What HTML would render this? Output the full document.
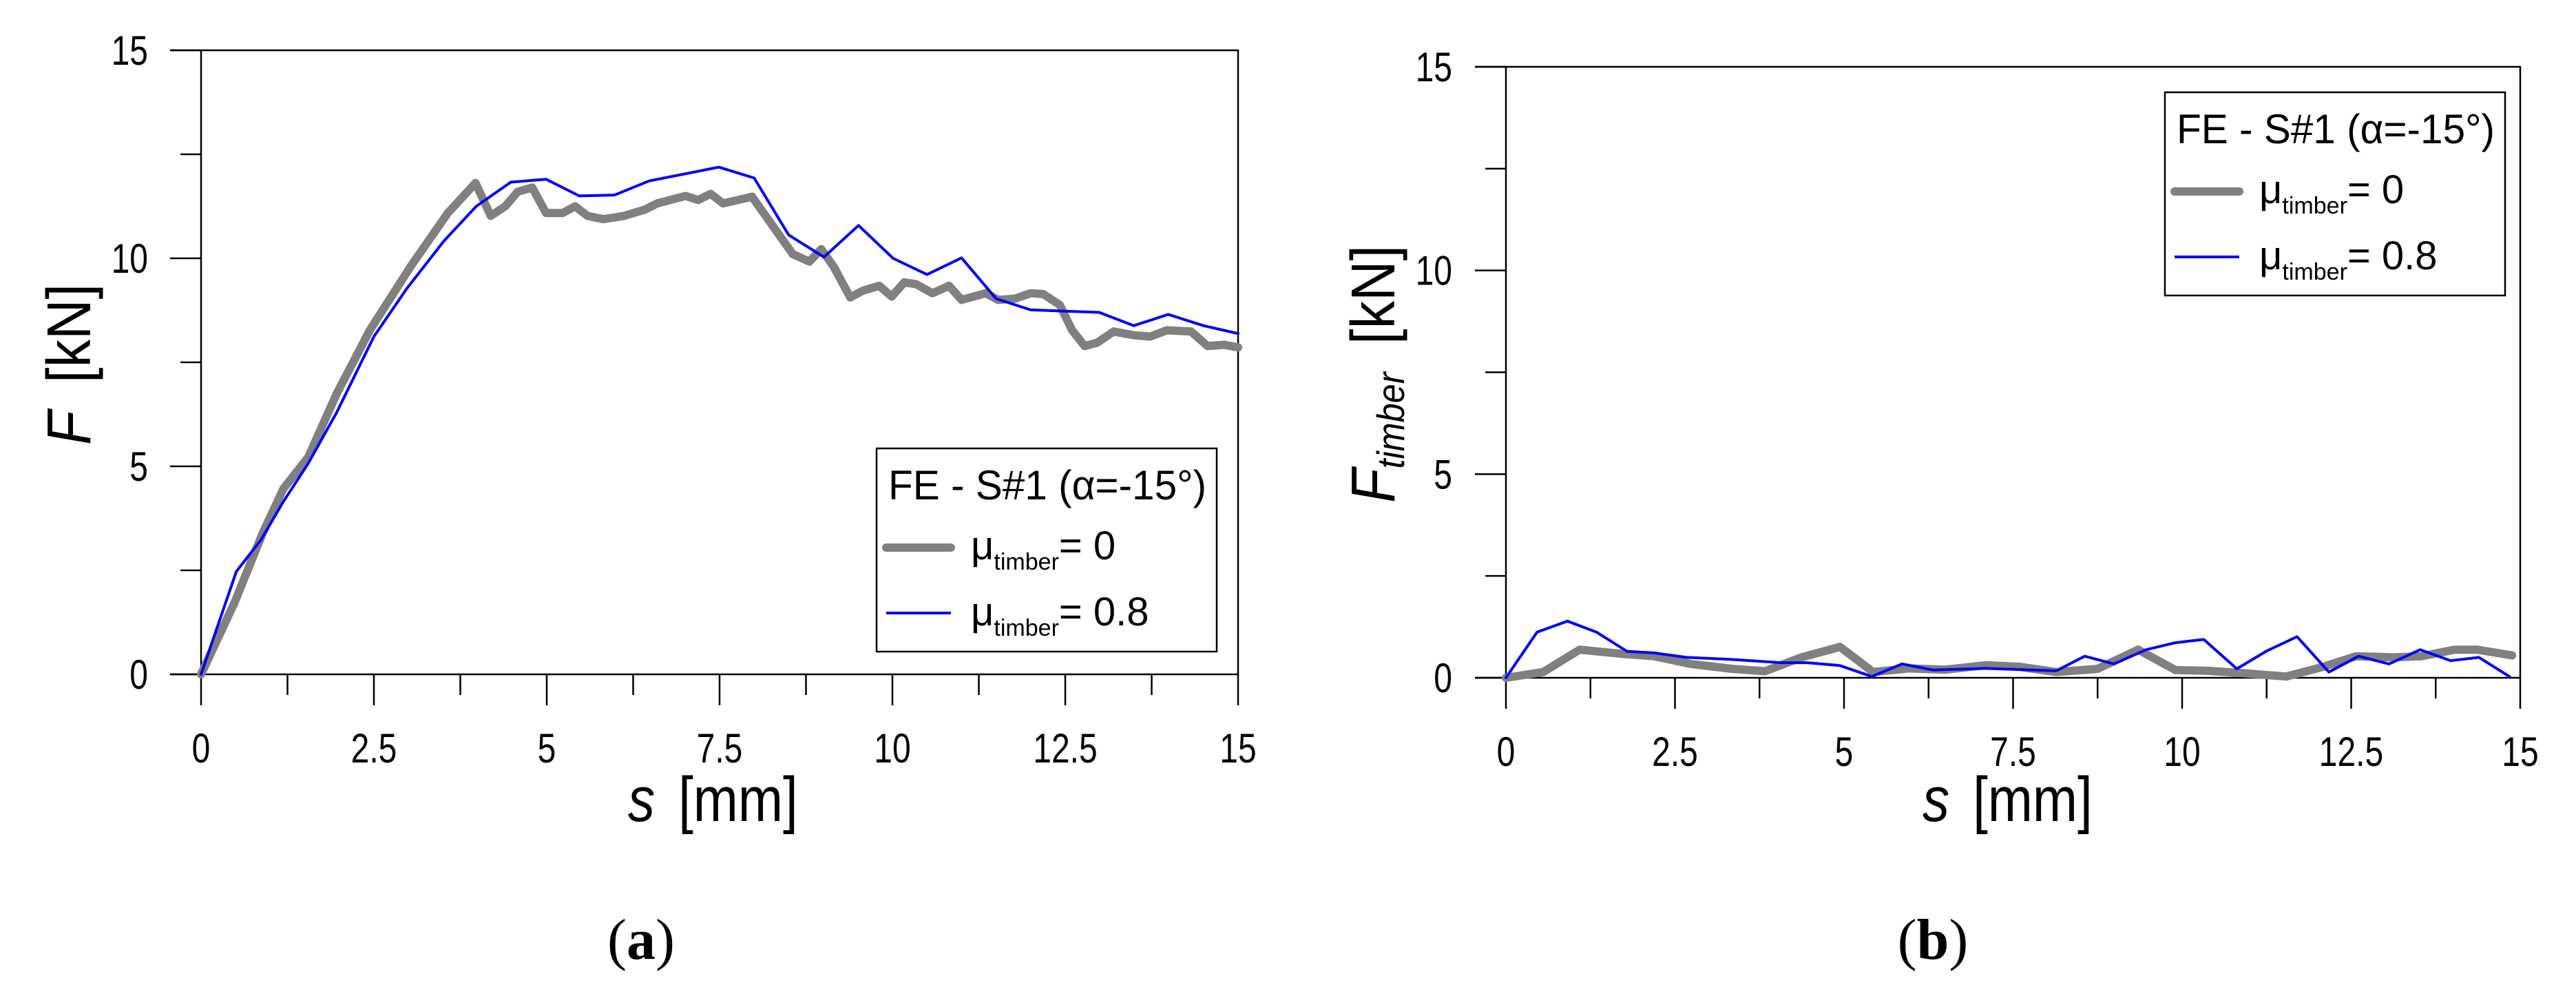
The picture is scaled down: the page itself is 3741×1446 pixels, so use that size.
<!DOCTYPE html>
<html><head><meta charset="utf-8"><style>
html,body{margin:0;padding:0;background:#fff;}
svg{display:block;font-family:"Liberation Sans",sans-serif;}
</style></head><body>
<svg id="fig" width="3741" height="1446" viewBox="0 0 3741 1446" xmlns="http://www.w3.org/2000/svg">
<g id="pa"></g>
<g id="pb"></g>
</svg>
<script>
const xTicks=[0,2.5,5,7.5,10,12.5,15];
const xTickLabels=["0","2.5","5","7.5","10","12.5","15"];
const yTicks=[0,5,10,15];
const yTickLabels=["0","5","10","15"];
const aGrayX=[0,0.48,0.89,1.19,1.55,1.96,2.44,3.03,3.57,3.97,4.19,4.4,4.58,4.79,4.99,5.23,5.41,5.59,5.82,6.12,6.42,6.6,6.78,7.01,7.19,7.37,7.55,7.97,8.2,8.56,8.8,8.97,9.15,9.39,9.57,9.81,9.99,10.17,10.34,10.58,10.82,11.0,11.35,11.53,11.77,12.0,12.18,12.42,12.6,12.78,12.96,13.2,13.49,13.73,13.97,14.32,14.56,14.8,15];
const aGrayY=[0,1.71,3.39,4.46,5.22,6.74,8.27,9.8,11.09,11.81,11.02,11.25,11.6,11.7,11.09,11.09,11.25,11.02,10.94,11.02,11.17,11.32,11.4,11.5,11.4,11.55,11.32,11.48,10.94,10.1,9.92,10.22,9.8,9.06,9.22,9.34,9.08,9.42,9.38,9.16,9.34,9.0,9.16,9.0,9.03,9.16,9.14,8.88,8.27,7.89,7.97,8.24,8.15,8.12,8.27,8.24,7.89,7.92,7.86];
const aBlueX=[0,0.51,0.87,1.19,1.55,1.96,2.5,2.97,3.51,3.98,4.48,4.99,5.47,5.98,6.48,7.49,8.0,8.5,9.01,9.51,10.01,10.5,11.0,11.5,12.0,12.5,12.99,13.49,13.99,14.5,15];
const aBlueY=[0,2.47,3.24,4.15,5.07,6.29,8.12,9.26,10.41,11.25,11.83,11.9,11.5,11.52,11.86,12.19,11.93,10.56,10.03,10.79,10.0,9.61,10.01,9.03,8.76,8.73,8.7,8.38,8.65,8.38,8.19];
const bGrayX=[0,0.55,1.09,1.76,2.19,2.73,3.34,3.83,4.37,4.94,5.43,5.95,6.5,7.1,7.59,8.14,8.75,9.35,9.9,10.38,10.93,11.54,12.09,12.57,13.12,13.54,14.03,14.36,14.88];
const bGrayY=[0,0.14,0.69,0.58,0.53,0.34,0.22,0.16,0.5,0.76,0.14,0.23,0.2,0.31,0.27,0.14,0.22,0.69,0.19,0.17,0.11,0.03,0.27,0.53,0.5,0.53,0.69,0.69,0.55];
const bBlueX=[0,0.46,0.91,1.34,1.79,2.19,2.67,3.34,4.07,4.46,4.94,5.41,5.86,6.32,7.1,8.14,8.56,8.99,9.47,9.9,10.32,10.81,11.24,11.7,12.17,12.61,13.06,13.52,13.97,14.39,14.84];
const bBlueY=[0,1.12,1.39,1.12,0.65,0.61,0.5,0.45,0.37,0.37,0.3,0.03,0.34,0.19,0.23,0.17,0.53,0.34,0.69,0.86,0.94,0.22,0.65,1.01,0.14,0.53,0.34,0.69,0.42,0.5,0.03];

const NS="http://www.w3.org/2000/svg";
function mk(parent,tag,attrs,txt){const e=document.createElementNS(NS,tag);for(const k in attrs)e.setAttribute(k,attrs[k]);if(txt!==undefined)e.textContent=txt;parent.appendChild(e);return e;}

function panel(g,cfg){
  const sx=v=>cfg.x0+(cfg.x1-cfg.x0)*v/15;
  const sy=v=>cfg.y0-(cfg.y0-cfg.y1)*v/15;
  const L={stroke:"#000","stroke-width":2.5,fill:"none"};
  const fr=mk(g,"rect",Object.assign({x:cfg.x0,y:cfg.y1,width:cfg.x1-cfg.x0,height:cfg.y0-cfg.y1},L));
  
  
  for(let i=0;i<=12;i++){const v=i*1.25;const major=i%2===0;
    const t=mk(g,"line",Object.assign({x1:sx(v),x2:sx(v),y1:cfg.y0,y2:cfg.y0+(major?45:30)},L));
    
    }
  mk(g,"line",Object.assign({x1:cfg.x0-45,x2:cfg.x0,y1:cfg.y0,y2:cfg.y0},L));
  mk(g,"line",Object.assign({x1:cfg.x0-45,x2:cfg.x0,y1:cfg.y1,y2:cfg.y1},L));
  for(let i=0;i<=6;i++){const v=i*2.5;const major=i%2===0;
    const t=mk(g,"line",Object.assign({x1:cfg.x0-(major?45:30),x2:cfg.x0,y1:sy(v),y2:sy(v)},L));
    
    }
  xTicks.forEach((v,i)=>{const t=mk(g,"text",{transform:"translate("+sx(v)+","+(cfg.y0+128)+") scale(0.8,1)","font-size":60,"text-anchor":"middle"},xTickLabels[i]);
    
    });
  yTicks.forEach((v,i)=>{const t=mk(g,"text",{transform:"translate("+cfg.ylx+","+(sy(v)+21)+") scale(0.8,1)","font-size":60,"text-anchor":"end"},yTickLabels[i]);
    
    });
  function series(xs,ys,color,w,name){
    const d=xs.map((x,i)=>(i?"L":"M")+sx(x).toFixed(1)+","+sy(ys[i]).toFixed(1)).join("");
    const p=mk(g,"path",{d:d,stroke:color,"stroke-width":w,fill:"none","stroke-linejoin":"round","stroke-linecap":"round"});
    
    
  }
  series(cfg.gx,cfg.gy,"#808080",12,"series-mu-0");
  series(cfg.bx,cfg.by,"#0000ff",4,"series-mu-0.8");
  const lg=mk(g,"g",{});
  
  
  const lx=cfg.lx, ly=cfg.ly;
  mk(lg,"rect",{x:lx,y:ly,width:494,height:295,fill:"#fff",stroke:"#000","stroke-width":2.5});
  mk(lg,"text",{x:lx+17,y:ly+74,"font-size":60,textLength:462,lengthAdjust:"spacingAndGlyphs"},"FE - S#1 (α=-15°)");
  const e1=mk(lg,"line",{x1:lx+14,x2:lx+108,y1:ly+144,y2:ly+144,stroke:"#808080","stroke-width":12,"stroke-linecap":"round"});
  
  
  const t1=mk(lg,"text",{x:lx+137,y:ly+161,"font-size":58});
  mk(t1,"tspan",{},"μ");mk(t1,"tspan",{"font-size":34,dy:15},"timber");mk(t1,"tspan",{dy:-15},"= 0");
  const e2=mk(lg,"line",{x1:lx+14,x2:lx+108,y1:ly+239,y2:ly+239,stroke:"#0000ff","stroke-width":4});
  
  
  const t2=mk(lg,"text",{x:lx+137,y:ly+257,"font-size":58});
  mk(t2,"tspan",{},"μ");mk(t2,"tspan",{"font-size":34,dy:15},"timber");mk(t2,"tspan",{dy:-15},"= 0.8");
  const xt=mk(g,"text",{transform:"translate("+cfg.xtx+",1192) scale(0.85,1)","font-size":92});
  
  
  mk(xt,"tspan",{"font-style":"italic"},"s");mk(xt,"tspan",{dx:40},"[mm]");
  const yt=mk(g,"text",{transform:"translate("+cfg.ytx+","+cfg.yty+") rotate(-90) scale(0.9,1)","font-size":90});
  
  
  mk(yt,"tspan",{"font-style":"italic"},"F");
  if(cfg.sub){mk(yt,"tspan",{"font-style":"italic","font-size":56,dy:14},"timber");mk(yt,"tspan",{dy:-14,dx:45},"[kN]");}
  else mk(yt,"tspan",{dx:45},"[kN]");
  const cp=mk(g,"text",{x:cfg.cap,y:1392,"font-size":84,"text-anchor":"middle","font-family":"Liberation Serif, serif"});
  
  
  mk(cp,"tspan",{},"(");mk(cp,"tspan",{"font-weight":"bold"},cfg.letter);mk(cp,"tspan",{},")");
}
panel(document.getElementById("pa"),{x0:292,x1:1798,y0:979,y1:73,ylx:215,gx:aGrayX,gy:aGrayY,bx:aBlueX,by:aBlueY,lx:1273,ly:651,xtx:912,ytx:131,yty:646,sub:false,cap:931,letter:"a"});
panel(document.getElementById("pb"),{x0:2187,x1:3660,y0:984,y1:97,ylx:2109,gx:bGrayX,gy:bGrayY,bx:bBlueX,by:bBlueY,lx:3144,ly:134,xtx:2792,ytx:2025,yty:730,sub:true,cap:2807,letter:"b"});
</script>
</body></html>
